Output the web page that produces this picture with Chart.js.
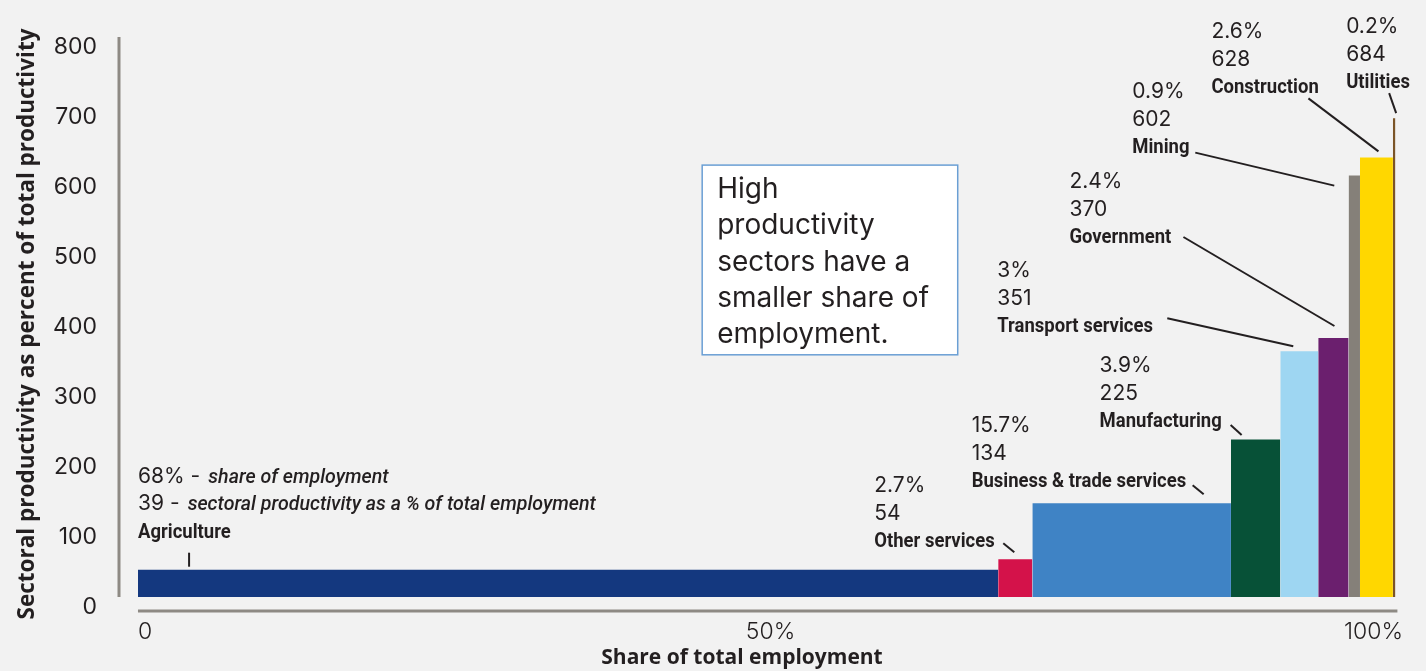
<!DOCTYPE html>
<html>
<head>
<meta charset="utf-8">
<script src="https://cdn.jsdelivr.net/npm/chart.js@4.4.1/dist/chart.umd.min.js"></script>
<style>
  html, body { margin: 0; padding: 0; background: #f2f2f2; }
  #wrap { position: relative; width: 1426px; height: 671px; }
</style>
</head>
<body>
<div id="wrap"><canvas id="c" width="1426" height="671"></canvas></div>
<script>
// ---- data ----
const sectors = ["Agriculture", "Other services", "Business & trade services", "Manufacturing",
                 "Transport services", "Government", "Mining", "Construction", "Utilities"];
const employmentShare = [68, 2.7, 15.7, 3.9, 3, 2.4, 0.9, 2.6, 0.2];        // % of total employment
const productivity = [39, 54, 134, 225, 351, 370, 602, 628, 684];            // % of total productivity
const shareLabels = ["68%", "2.7%", "15.7%", "3.9%", "3%", "2.4%", "0.9%", "2.6%", "0.2%"];
const valueLabels = ["39", "54", "134", "225", "351", "370", "602", "628", "684"];
const yTicks = [0, 100, 200, 300, 400, 500, 600, 700, 800];
const xTicks = [0, 50, 100];
const xTickLabels = ["0", "50%", "100%"];
const noteLines = ["High", "productivity", "sectors have a", "smaller share of", "employment."];
const agricultureKey = ["share of employment", "sectoral productivity as a % of total employment"];
const xTitle = "Share of total employment";
const yTitle = "Sectoral productivity as percent of total productivity";

// ---- styles ----
const sectorColors = ["#14387f", "#d4124a", "#3f83c5", "#075137", "#9ed6f2",
                      "#6b1f6e", "#858079", "#ffd700", "#7b5427"];
const INK = "#231f20";
const AXIS = "#8e8a84";
const NUM_FONT = "Inter";
const NAME_FONT = "Roboto";
const TITLE_FONT = "'Open Sans'";
const NAME_SX = 0.88;           // horizontal squeeze for the condensed bold names
const LINE_GAP = 28;

// label placement per sector, in px relative to the bar's top-centre:
// e = leader end, s = leader start (from e), t = text block (left, first baseline) from s
const labelLayout = [
  { e: [-379, -3],  s: [0, -14],     t: [-51, -70] },
  { e: [-1, -7],    s: [-11, -9],    t: [-129, -51] },
  { e: [72, -9],    s: [-11, -9],    t: [-221, -53] },
  { e: [-14, -4.5], s: [-11, -10],   t: [-131, -53] },
  { e: [-6, -5],    s: [-126, -28],  t: [-170, -41] },
  { e: [1, -12],    s: [-151, -89],  t: [-114, -49] },
  { e: [-20, 10],   s: [-139, -33],  t: [-63, -55] },
  { e: [2, -6],     s: [-70, -53],   t: [-97, -60] },
  { e: [2, -5],     s: [-7, -20],    t: [-43, -60] }
];
// note box in data units (x: % of employment, y: productivity)
const noteBox = { x0: 44.6, x1: 64.8, yTop: 617, yBottom: 346 };

// cumulative starts of each sector along the employment axis
const starts = [];
employmentShare.reduce((acc, w, i) => { starts[i] = acc; return acc + w; }, 0);
const totalShare = employmentShare.reduce((a, b) => a + b, 0);

const datasets = sectors.map((name, i) => ({
  label: name,
  data: [{ x: starts[i], y: productivity[i] }, { x: starts[i] + employmentShare[i], y: productivity[i] }],
  fill: { value: 0 },
  backgroundColor: sectorColors[i],
  borderColor: sectorColors[i],
  borderWidth: 0,
  pointRadius: 0,
  pointHoverRadius: 0,
  tension: 0
}));

function drawCondensed(ctx, text, x, y, font, sx) {
  ctx.save();
  ctx.font = font;
  const w = ctx.measureText(text).width * sx;
  ctx.translate(x, y);
  ctx.scale(sx, 1);
  ctx.fillText(text, 0, 0);
  ctx.restore();
  return w;
}

const decorPlugin = {
  id: "decor",
  beforeDatasetsDraw(chart) {
    const { ctx, scales: { x, y } } = chart;
    ctx.save();
    ctx.strokeStyle = AXIS;
    ctx.lineWidth = 3;
    ctx.beginPath();
    ctx.moveTo(chart.chartArea.left, y.getPixelForValue(800));
    ctx.lineTo(chart.chartArea.left, y.getPixelForValue(0));
    ctx.stroke();
    ctx.beginPath();
    ctx.moveTo(x.getPixelForValue(0), chart.chartArea.bottom);
    ctx.lineTo(x.getPixelForValue(totalShare) + 2, chart.chartArea.bottom);
    ctx.stroke();

    // employment axis title, sitting a little left of the plot centre
    ctx.fillStyle = INK;
    ctx.font = `bold 21px ${TITLE_FONT}`;
    ctx.textAlign = "center";
    ctx.textBaseline = "middle";
    ctx.fillText(xTitle, (chart.chartArea.left + chart.chartArea.right) / 2 - 19, x.bottom - 13);
    ctx.restore();
  },
  afterDatasetsDraw(chart) {
    const { ctx, scales: { x, y } } = chart;
    ctx.save();
    ctx.fillStyle = INK;
    ctx.strokeStyle = INK;
    ctx.textBaseline = "alphabetic";
    ctx.textAlign = "left";

    sectors.forEach((name, i) => {
      const bx = x.getPixelForValue(starts[i] + employmentShare[i] / 2);
      const by = y.getPixelForValue(productivity[i]);
      const L = labelLayout[i];
      const ex = bx + L.e[0], ey = by + L.e[1];
      const sx = ex + L.s[0], sy = ey + L.s[1];
      const tx = sx + L.t[0], ty = sy + L.t[1];

      ctx.lineWidth = 2;
      ctx.beginPath();
      ctx.moveTo(sx, sy);
      ctx.lineTo(ex, ey);
      ctx.stroke();

      const numFont = `400 21px ${NUM_FONT}`;
      const keyFont = `italic 500 20px ${NAME_FONT}`;
      if (i === 0) {
        ctx.font = numFont;
        const p1 = shareLabels[i] + " -";
        ctx.fillText(p1, tx, ty);
        drawCondensed(ctx, agricultureKey[0], tx + ctx.measureText(p1).width + 8, ty, keyFont, 0.98);
        ctx.font = numFont;
        const p2 = valueLabels[i] + " -";
        ctx.fillText(p2, tx, ty + LINE_GAP - 1);
        drawCondensed(ctx, agricultureKey[1], tx + ctx.measureText(p2).width + 8, ty + LINE_GAP - 1, keyFont, 0.98);
      } else {
        ctx.font = numFont;
        ctx.fillText(shareLabels[i], tx, ty);
        ctx.fillText(valueLabels[i], tx, ty + LINE_GAP);
      }
      drawCondensed(ctx, name, tx, ty + 2 * LINE_GAP - 1, `700 21px ${NAME_FONT}`, NAME_SX);
    });

    // note box
    const l = x.getPixelForValue(noteBox.x0), r = x.getPixelForValue(noteBox.x1);
    const t = y.getPixelForValue(noteBox.yTop), b = y.getPixelForValue(noteBox.yBottom);
    ctx.fillStyle = "#ffffff";
    ctx.fillRect(l, t, r - l, b - t);
    ctx.strokeStyle = "#6a9fd4";
    ctx.lineWidth = 1.5;
    ctx.strokeRect(l, t, r - l, b - t);
    ctx.fillStyle = INK;
    ctx.font = `400 28px ${NUM_FONT}`;
    noteLines.forEach((line, k) => ctx.fillText(line, l + 15, t + 33 + k * 36.3));
    ctx.restore();
  }
};

function build() {
  new Chart(document.getElementById("c"), {
    type: "line",
    data: { datasets },
    plugins: [decorPlugin],
    options: {
      responsive: false,
      animation: false,
      devicePixelRatio: 1,
      layout: { padding: { top: 37, right: 23, left: 0, bottom: 0 } },
      plugins: { legend: { display: false }, tooltip: { enabled: false } },
      elements: { line: { borderWidth: 0 } },
      scales: {
        x: {
          type: "linear",
          min: -1.5,
          max: 100,
          grid: { display: false, drawTicks: false },
          border: { display: false },
          afterBuildTicks: s => { s.ticks = xTicks.map(v => ({ value: v })); },
          afterFit: s => { s.height = 60; },
          ticks: {
            align: "inner",
            padding: 7,
            maxRotation: 0,
            autoSkip: false,
            color: INK,
            font: { family: NUM_FONT, size: 23, weight: "300" },
            callback: (v, i) => xTickLabels[i]
          },
          title: { display: false }
        },
        y: {
          min: -20,
          max: 800,
          grid: { display: false, drawTicks: false },
          border: { display: false },
          afterBuildTicks: s => { s.ticks = yTicks.map(v => ({ value: v })); },
          afterFit: s => { s.width = 119; },
          ticks: {
            padding: 22,
            labelOffset: 10,
            color: INK,
            font: { family: NUM_FONT, size: 23, weight: "400" }
          },
          title: {
            display: true,
            text: yTitle,
            color: INK,
            font: { family: TITLE_FONT, size: 22.5, weight: "bold" },
            padding: { top: 14, bottom: 0 }
          }
        }
      }
    }
  });
}

const fontLoads = ["400 21px Inter", "300 23px Inter", "700 21px Roboto", "italic 500 20px Roboto", "bold 21px 'Open Sans'"]
  .map(f => document.fonts.load(f).catch(() => null));
Promise.all(fontLoads).then(build, build);
</script>
</body>
</html>
